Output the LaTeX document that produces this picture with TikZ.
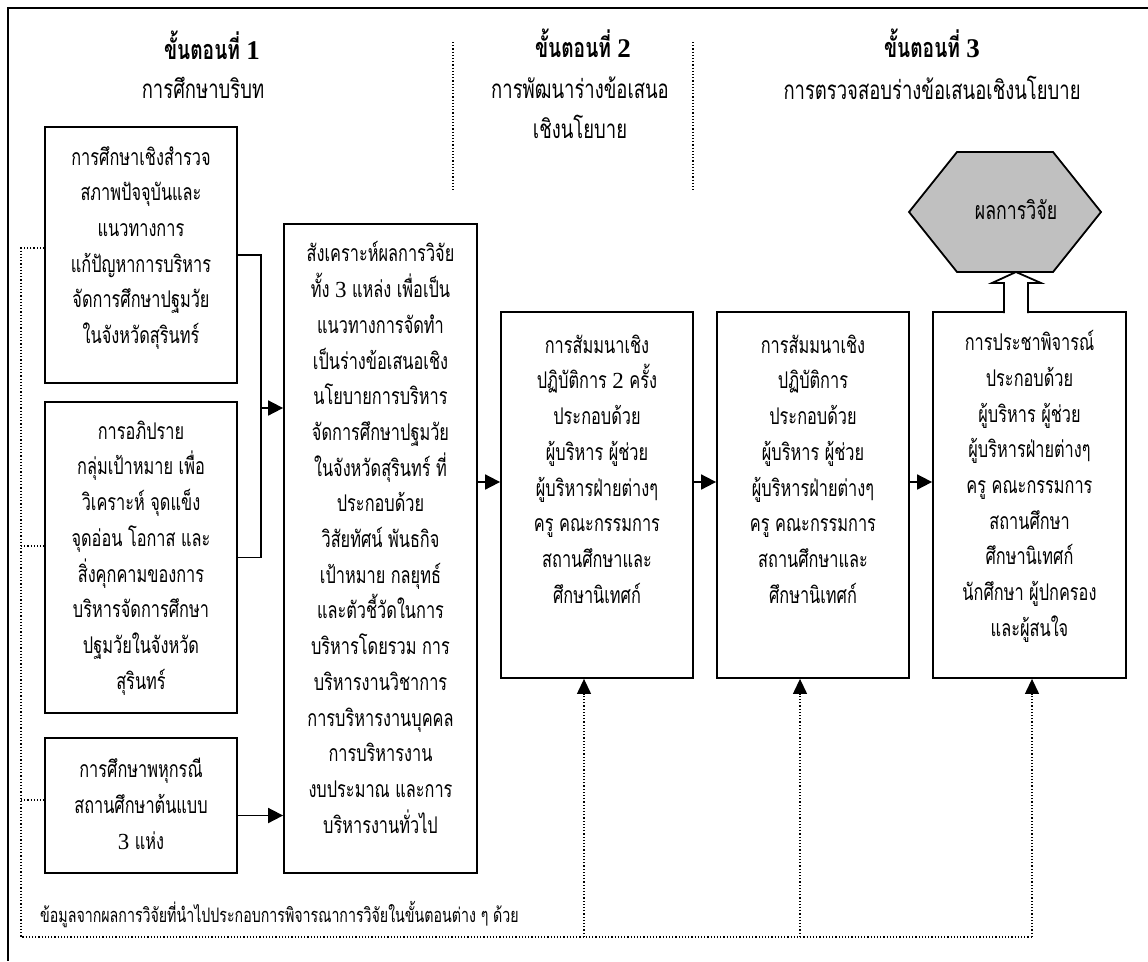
\documentclass[tikz,border=0pt]{standalone}
\usepackage{fontspec}
\usetikzlibrary{arrows.meta}
\setmainfont{Loma}[Script=Thai, FakeStretch=0.71]
\newfontfamily\latin{Liberation Serif}
\definecolor{hexgray}{RGB}{192,192,192}
\tikzset{
  box/.style={draw, line width=1.8pt, minimum width=192pt, inner sep=0pt},
  txt/.style={align=center, inner sep=0pt, font=\fontsize{23}{35.7}\selectfont},
  head/.style={align=center, inner sep=0pt, font=\fontsize{26}{40}\selectfont},
  stagehead/.style={head, font=\fontsize{27}{40}\selectfont\bfseries},
  wire/.style={line width=1.8pt},
  link/.style={wire, -{Triangle[length=15pt,width=15pt]}},
  feed/.style={line width=1.2pt, dotted},
  feedup/.style={feed, -{Triangle[length=15pt,width=14pt]}},
}
\begin{document}
\begin{tikzpicture}[x=1pt,y=-1pt]
\useasboundingbox (0,0) rectangle (1148,961);
\draw[wire] (1148,8) -- (8,8) -- (8,961);
% headings of the three stages
\node[stagehead] (stage1) at (212,45) {ขั้นตอนที่ {\latin 1}};
\node[head] (topic1) at (203,88) {การศึกษาบริบท};
\node[stagehead] (stage2) at (583,43) {ขั้นตอนที่ {\latin 2}};
\node[head] (topic2) at (580,108) {การพัฒนาร่างข้อเสนอ\\เชิงนโยบาย};
\node[stagehead] (stage3) at (932,43) {ขั้นตอนที่ {\latin 3}};
\node[head] (topic3) at (932,88) {การตรวจสอบร่างข้อเสนอเชิงนโยบาย};
\draw[feed] (453,42) -- (453,192);
\draw[feed] (693,42) -- (693,192);
% stage 1
\node[box, minimum height=256pt] (survey) at (141,255) {};
\node[txt] (surveytxt) at (141,248) {การศึกษาเชิงสำรวจ\\สภาพปัจจุบันและ\\แนวทางการ\\แก้ปัญหาการบริหาร\\จัดการศึกษาปฐมวัย\\ในจังหวัดสุรินทร์};
\node[box, minimum height=311pt] (swot) at (141,557.5) {};
\node[txt] (swottxt) at (141,558) {การอภิปราย\\กลุ่มเป้าหมาย เพื่อ\\วิเคราะห์ จุดแข็ง\\จุดอ่อน โอกาส และ\\สิ่งคุกคามของการ\\บริหารจัดการศึกษา\\ปฐมวัยในจังหวัด\\สุรินทร์};
\node[box, minimum height=135pt] (cases) at (141,805.5) {};
\node[txt] (casestxt) at (141,804) {การศึกษาพหุกรณี\\สถานศึกษาต้นแบบ\\{\latin 3} แห่ง};
% stage 2
\node[box, minimum width=193pt, minimum height=649pt] (synth) at (380.5,548.5) {};
\node[txt] (synthtxt) at (380.5,537.5) {สังเคราะห์ผลการวิจัย\\ทั้ง {\latin 3} แหล่ง เพื่อเป็น\\แนวทางการจัดทำ\\เป็นร่างข้อเสนอเชิง\\นโยบายการบริหาร\\จัดการศึกษาปฐมวัย\\ในจังหวัดสุรินทร์ ที่\\ประกอบด้วย\\วิสัยทัศน์ พันธกิจ\\เป้าหมาย กลยุทธ์\\และตัวชี้วัดในการ\\บริหารโดยรวม การ\\บริหารงานวิชาการ\\การบริหารงานบุคคล\\การบริหารงาน\\งบประมาณ และการ\\บริหารงานทั่วไป};
\node[box, minimum height=366pt] (seminar1) at (597,495) {};
\node[txt] (seminar1txt) at (597,469) {การสัมมนาเชิง\\ปฏิบัติการ {\latin 2} ครั้ง\\ประกอบด้วย\\ผู้บริหาร ผู้ช่วย\\ผู้บริหารฝ่ายต่างๆ\\ครู คณะกรรมการ\\สถานศึกษาและ\\ศึกษานิเทศก์};
% stage 3
\node[box, minimum height=366pt] (seminar2) at (813,495) {};
\node[txt] (seminar2txt) at (813,469) {การสัมมนาเชิง\\ปฏิบัติการ\\ประกอบด้วย\\ผู้บริหาร ผู้ช่วย\\ผู้บริหารฝ่ายต่างๆ\\ครู คณะกรรมการ\\สถานศึกษาและ\\ศึกษานิเทศก์};
\node[box, minimum width=193pt, minimum height=366pt] (hearing) at (1029.5,495) {};
\node[txt] (hearingtxt) at (1029.5,486.5) {การประชาพิจารณ์\\ประกอบด้วย\\ผู้บริหาร ผู้ช่วย\\ผู้บริหารฝ่ายต่างๆ\\ครู คณะกรรมการ\\สถานศึกษา\\ศึกษานิเทศก์\\นักศึกษา ผู้ปกครอง\\และผู้สนใจ};
% result
\draw[wire, fill=hexgray] (909,212) -- (957,152) -- (1053,152) -- (1101,212)
    -- (1053,272) -- (957,272) -- cycle;
\node[txt, font=\fontsize{25}{30}\selectfont] (result) at (1016,210) {ผลการวิจัย};
\draw[wire, fill=white] (1004,313) -- (1004,283) -- (992,283) -- (1016,272)
    -- (1041,283) -- (1028,283) -- (1028,313);
% connectors
\coordinate (join) at (261,408);
\coordinate (row) at (0,482);
\draw[wire] (survey.east) -| (join) |- (swot.east);
\draw[link] (join) -- (join -| synth.west);
\draw[link] ([yshift=-10pt]cases.east) -- ([yshift=-10pt]cases.east -| synth.west);
\draw[link] (synth.east |- row) -- (seminar1.west |- row);
\draw[link] (seminar1.east |- row) -- (seminar2.west |- row);
\draw[link] (seminar2.east |- row) -- (hearing.west |- row);
% feedback of the findings
\coordinate (fbA) at (21,248);
\coordinate (fbB) at (21,546);
\coordinate (fbC) at (21,800);
\coordinate (fbL) at (21,937);
\coordinate (fbE) at (584,937);
\coordinate (fbF) at (800,937);
\coordinate (fbG) at (1032,937);
\draw[feed] (survey.west |- fbA) -- (fbA) -- (fbL) -- (fbG);
\draw[feed] (fbB) -- (swot.west |- fbB);
\draw[feed] (fbC) -- (cases.west |- fbC);
\draw[feedup] (fbE) -- (fbE |- seminar1.south);
\draw[feedup] (fbF) -- (fbF |- seminar2.south);
\draw[feedup] (fbG) -- (fbG |- hearing.south);
\node[txt, anchor=west, font=\fontsize{20}{30}\selectfont] (note) at (40,914) {ข้อมูลจากผลการวิจัยที่นำไปประกอบการพิจารณาการวิจัยในขั้นตอนต่าง ๆ ด้วย};
\end{tikzpicture}
\end{document}
